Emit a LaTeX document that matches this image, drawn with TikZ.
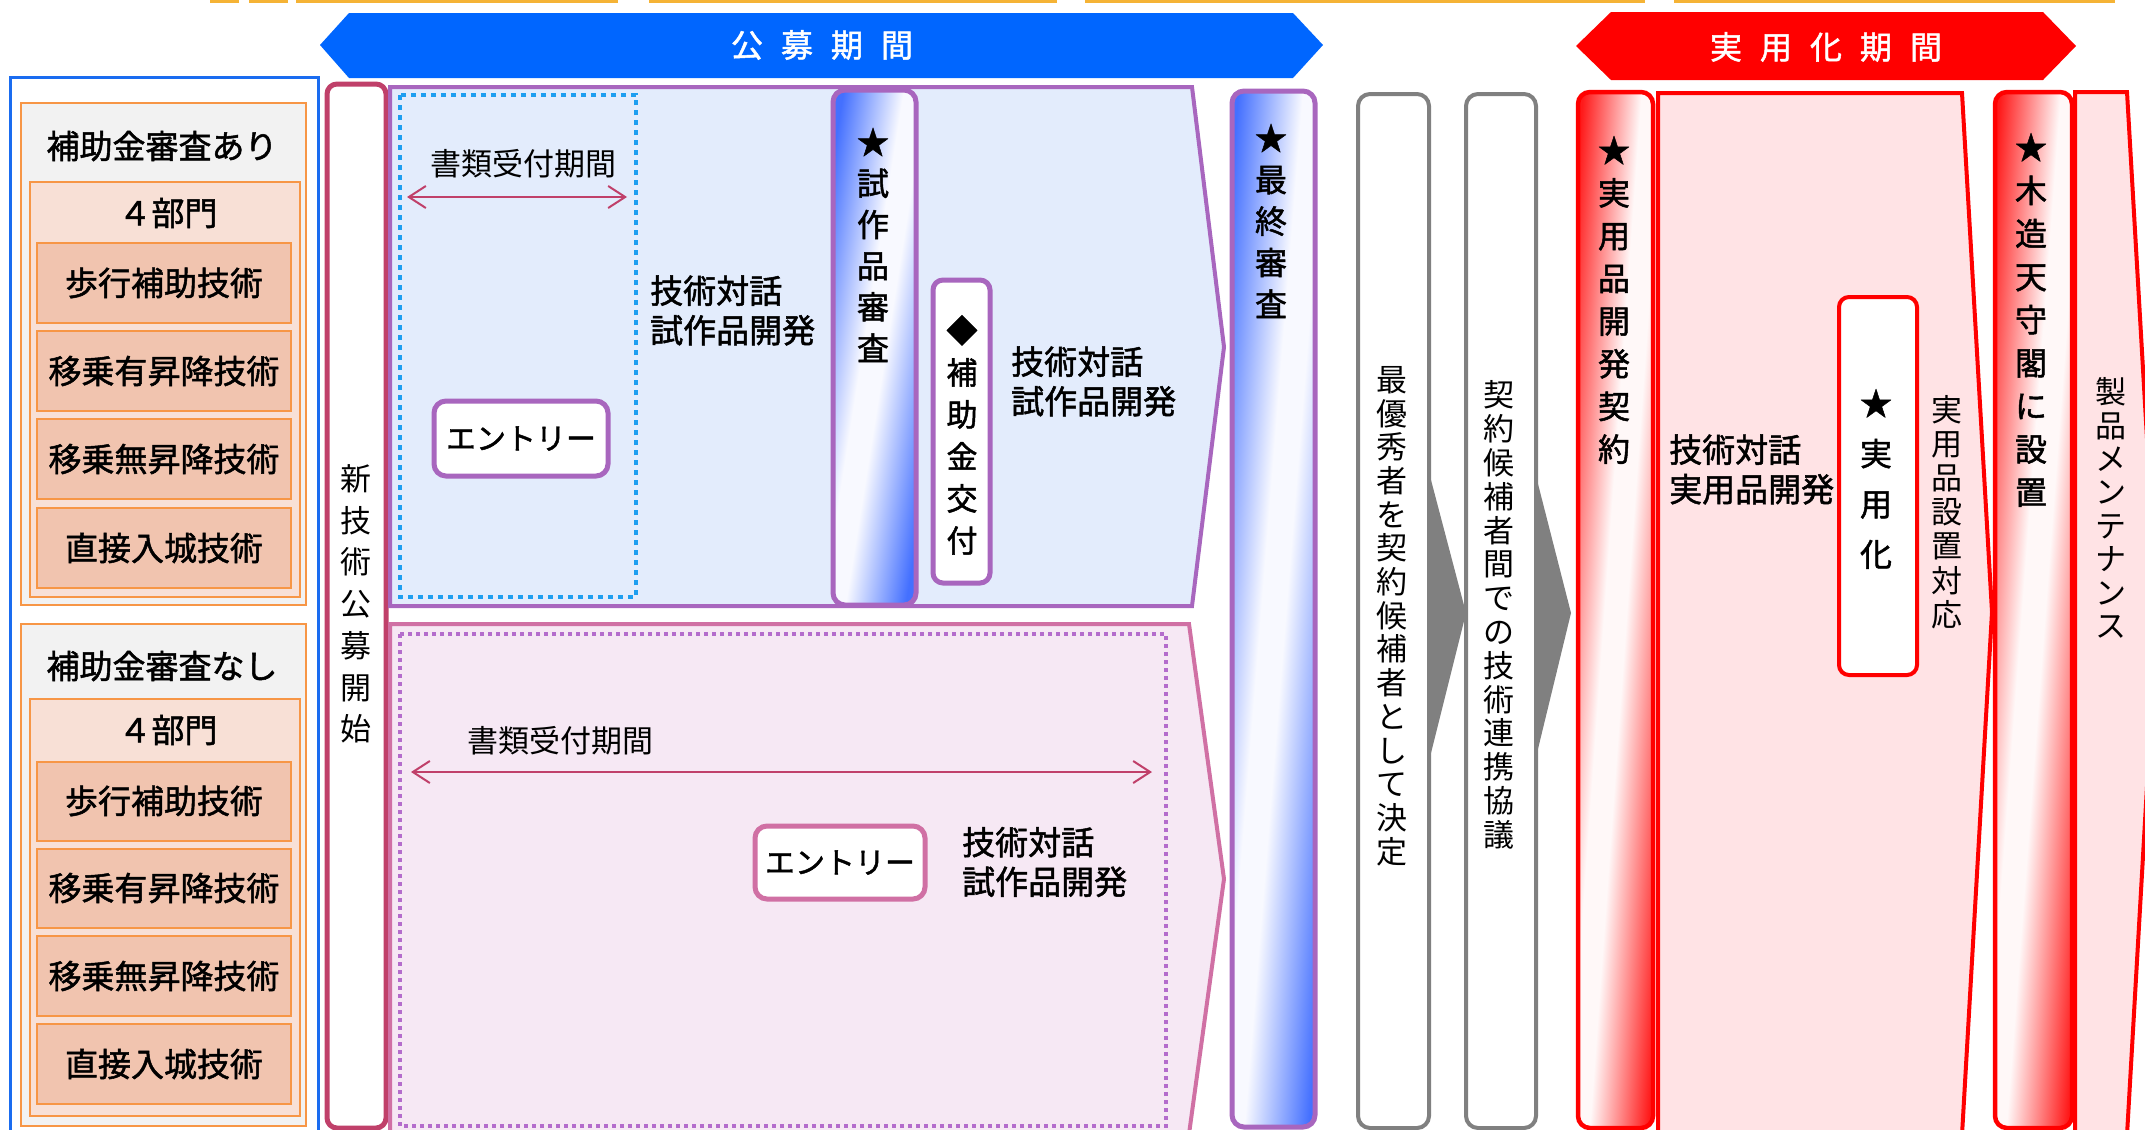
\documentclass[tikz,border=0pt]{standalone}
\usepackage{fontspec}
\newfontfamily\jp{Noto Sans CJK JP}
\newfontfamily\jpm{Noto Sans CJK JP}[FakeBold=1.5]
\usetikzlibrary{arrows.meta}
\definecolor{bannerblue}{HTML}{0066FF}
\definecolor{bannerred}{HTML}{FF0000}
\definecolor{boxblue}{HTML}{1A6CF0}
\definecolor{org}{HTML}{F79646}
\definecolor{ttlgray}{HTML}{F2F2F2}
\definecolor{peach}{HTML}{F8E0D6}
\definecolor{salmon}{HTML}{F1C4AF}
\definecolor{crim}{HTML}{C0406A}
\definecolor{purp}{HTML}{A866BE}
\definecolor{pinkline}{HTML}{D070A4}
\definecolor{ltblue}{HTML}{E3ECFC}
\definecolor{ltpink}{HTML}{F6E8F4}
\definecolor{ltred}{HTML}{FFE3E5}
\definecolor{skyb}{HTML}{1E9EF0}
\definecolor{dotpurp}{HTML}{B46CCC}
\definecolor{gblue}{HTML}{4470FF}
\definecolor{gwb}{HTML}{F8F9FF}
\definecolor{gred}{HTML}{FF1A1A}
\definecolor{gwr}{HTML}{FFF8F8}
\definecolor{topor}{HTML}{F5B335}
\definecolor{gry}{HTML}{808080}
\pgfdeclareverticalshading{diagblue}{100bp}{color(0bp)=(gblue); color(25bp)=(gblue); color(46bp)=(gwb); color(54bp)=(gwb); color(75bp)=(gblue); color(100bp)=(gblue)}
\pgfdeclareverticalshading{diagred}{100bp}{color(0bp)=(gred); color(25bp)=(gred); color(46bp)=(gwr); color(54bp)=(gwr); color(75bp)=(gred); color(100bp)=(gred)}
\newcommand\vfnt[2]{\jp\fontsize{#1}{#2}\selectfont}
\newcommand\mfnt[2]{\jpm\fontsize{#1}{#2}\selectfont}
\begin{document}
\begin{tikzpicture}[x=1pt,y=-1pt,
  vt/.style={align=center, inner sep=0pt},
  ht/.style={font=\mfnt{#1}{#1}, inner sep=0pt},
  thin/.style={font=\vfnt{#1}{#1}, inner sep=0pt},
  tl/.style={font=\mfnt{33}{39.5}, align=left, anchor=west, inner sep=0pt},
  bantext/.style={font=\mfnt{32}{32}, text=white, inner sep=0pt},
  orgbox/.style={draw=org, line width=2.5},
  item/.style={draw=org, fill=salmon, line width=2.5},
  bluecol/.style={draw=purp, line width=5, rounded corners=12, shading=diagblue, shading angle=#1},
  redcol/.style={draw=red, line width=4.5, rounded corners=12, shading=diagred, shading angle=#1},
  graycol/.style={draw=gry, line width=4, fill=white, rounded corners=12},
  entry/.style={line width=5, fill=white, rounded corners=12},
  period/.style={draw=crim, line width=2, {Straight Barb[length=17pt,width=22pt]}-{Straight Barb[length=17pt,width=22pt]}},
  chevron/.style={fill=gry}
]
\useasboundingbox (0,0) rectangle (2145,1130);
\clip (0,0) rectangle (2145,1130);

% top fragments
\foreach \a/\b in {210/239,249/288,296/618,649/1057,1085/1645,1674/2115}
  \draw[topor, line width=3] (\a,1) -- (\b,1);

% banners
\fill[bannerblue] (320,45) -- (349,13) -- (1293,13) -- (1323,45) -- (1293,78) -- (349,78) -- cycle;
\node[bantext] (kobo) at (822,45) {公\hspace{18pt}募\hspace{18pt}期\hspace{18pt}間};
\fill[bannerred] (1576,46) -- (1611,12) -- (2043,12) -- (2076,46) -- (2043,80) -- (1611,80) -- cycle;
\node[bantext] (jitsuyo) at (1826,47) {実\hspace{18pt}用\hspace{18pt}化\hspace{18pt}期\hspace{18pt}間};

% left block
\draw[boxblue, line width=3] (10,77) rectangle (318,1150);
\draw[orgbox, fill=ttlgray] (21,103) rectangle (306,605);
\node[ht=33] (ari) at (162,146) {補助金審査あり};
\draw[orgbox, fill=peach] (30,182) rectangle (300,597);
\node[ht=33] (bumonA) at (168,213) {４部門};
\draw[item] (37,243) rectangle (291,323);
\node[ht=33] (a1) at (164,283) {歩行補助技術};
\draw[item] (37,331) rectangle (291,411);
\node[ht=33] (a2) at (164,371) {移乗有昇降技術};
\draw[item] (37,419) rectangle (291,499);
\node[ht=33] (a3) at (164,459) {移乗無昇降技術};
\draw[item] (37,508) rectangle (291,588);
\node[ht=33] (a4) at (164,548) {直接入城技術};

\draw[orgbox, fill=ttlgray] (21,624) rectangle (306,1126);
\node[ht=33] (nashi) at (162,666) {補助金審査なし};
\draw[orgbox, fill=peach] (30,699) rectangle (300,1116);
\node[ht=33] (bumonB) at (168,730) {４部門};
\draw[item] (37,762) rectangle (291,841);
\node[ht=33] (b1) at (164,801) {歩行補助技術};
\draw[item] (37,849) rectangle (291,928);
\node[ht=33] (b2) at (164,888) {移乗有昇降技術};
\draw[item] (37,936) rectangle (291,1016);
\node[ht=33] (b3) at (164,976) {移乗無昇降技術};
\draw[item] (37,1024) rectangle (291,1104);
\node[ht=33] (b4) at (164,1064) {直接入城技術};

% new technology start
\draw[crim, line width=5, fill=white, rounded corners=10] (327,84) rectangle (386,1128);
\node[vt, font=\vfnt{31}{41.7}] (start) at (356,604) {新\\技\\術\\公\\募\\開\\始};

% upper track
\draw[purp, fill=ltblue, line width=4] (390,87) -- (1192,87) -- (1224,347) -- (1192,606) -- (390,606) -- cycle;
\draw[skyb, line width=4, dash pattern=on 5pt off 5pt] (400,95) rectangle (636,597);
\node[thin=31] (docA) at (523,164) {書類受付期間};
\coordinate (pAl) at (407,197);
\coordinate (pAr) at (627,197);
\draw[period] (pAl) -- (pAr);
\draw[purp, entry] (434,401) rectangle (608,476);
\node[ht=30] (entryA) at (521,438.5) {エントリー};
\node[tl] (dlgA) at (650,310.5) {技術対話\\試作品開発};
\shadedraw[bluecol=81] (833,90) rectangle (916,605);
\node[vt, font=\mfnt{32}{41.2}] (shisaku) at (873,245) {★\\試\\作\\品\\審\\査};
\draw[purp, line width=5, fill=white, rounded corners=10] (933,280) rectangle (990,583);
\node[vt, font=\mfnt{31}{42}] (hojo) at (962,435) {◆\\補\\助\\金\\交\\付};
\node[tl] (dlgB) at (1011,381.5) {技術対話\\試作品開発};

% lower track
\draw[pinkline, fill=ltpink, line width=4] (390,624) -- (1189,624) -- (1224,879) -- (1189,1134) -- (390,1134) -- cycle;
\draw[dotpurp, line width=4, dash pattern=on 4pt off 4pt] (400,634) rectangle (1166,1126);
\node[thin=31] (docB) at (560,741) {書類受付期間};
\coordinate (pBl) at (411,772);
\coordinate (pBr) at (1152,772);
\draw[period] (pBl) -- (pBr);
\draw[pinkline, entry] (755,826) rectangle (925,899);
\node[ht=30] (entryB) at (840,862.5) {エントリー};
\node[tl] (dlgC) at (962,862) {技術対話\\試作品開発};

% final review
\shadedraw[bluecol=85.4] (1232,91) rectangle (1315,1127);
\node[vt, font=\mfnt{32}{41.5}] (final) at (1271,221) {★\\最\\終\\審\\査};

% candidate columns
\fill[chevron] (1431,480) -- (1466,613) -- (1431,753) -- cycle;
\fill[chevron] (1537,480) -- (1571,613) -- (1537,753) -- cycle;
\draw[graycol] (1358,94) rectangle (1429,1128);
\node[vt, font=\vfnt{31}{33.7}] (best) at (1392,616) {最\\優\\秀\\者\\を\\契\\約\\候\\補\\者\\と\\し\\て\\決\\定};
\draw[graycol] (1466,94) rectangle (1536,1128);
\node[vt, font=\vfnt{31}{33.8}] (collab) at (1499,615) {契\\約\\候\\補\\者\\間\\で\\の\\技\\術\\連\\携\\協\\議};

% practical phase
\draw[red, fill=ltred, line width=4] (1658,93) -- (1962,93) -- (1992,612) -- (1962,1135) -- (1658,1135) -- cycle;
\shadedraw[redcol=85.9] (1578,92) rectangle (1653,1128);
\node[vt, font=\mfnt{32}{42.7}] (contract) at (1614,300) {★\\実\\用\\品\\開\\発\\契\\約};
\node[tl] (dlgD) at (1669,469.5) {技術対話\\実用品開発};
\draw[red, line width=4, fill=white, rounded corners=10] (1839,297) rectangle (1917,675);
\node[vt, font=\mfnt{32}{50.3}] (practical) at (1876,479) {★\\実\\用\\化};
\node[vt, font=\vfnt{31}{34.2}] (install) at (1947,512) {実\\用\\品\\設\\置\\対\\応};
\shadedraw[redcol=85.7] (1995,92) rectangle (2072,1128);
\node[vt, font=\mfnt{32}{43.1}] (castle) at (2031,320) {★\\木\\造\\天\\守\\閣\\に\\設\\置};
\draw[red, fill=ltred, line width=4] (2075,92) -- (2127,92) -- (2157,612) -- (2127,1135) -- (2075,1135) -- cycle;
\node[vt, font=\vfnt{31}{33.4}] (maint) at (2111,508) {製\\品\\メ\\ン\\テ\\ナ\\ン\\ス};
\end{tikzpicture}
\end{document}
